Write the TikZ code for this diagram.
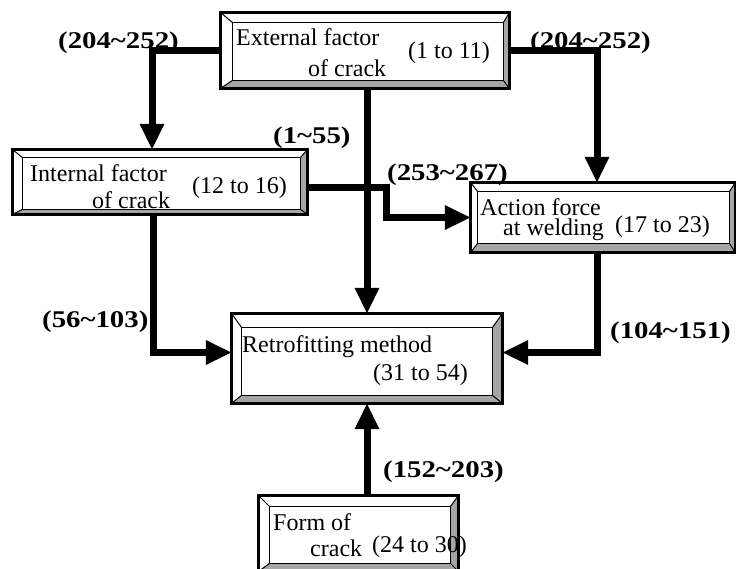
\documentclass[tikz,border=0pt]{standalone}
\usepackage{fontspec}
\setmainfont{Liberation Serif}
\newfontfamily\lblfont[FakeStretch=1.2]{Liberation Serif}
\usetikzlibrary{arrows.meta,calc}
\definecolor{bevelgray}{RGB}{165,165,165}
\tikzset{
  bbox/.style={rectangle, inner sep=0pt, draw=none},
  arr/.style={line width=7pt, -{Triangle[length=26pt,width=23pt]}},
  lbl/.style={font=\lblfont\bfseries\fontsize{24}{28}\selectfont, inner sep=0pt, anchor=west},
  txt/.style={font=\fontsize{24}{28}\selectfont, inner sep=0pt, anchor=west},
}
% name, left, top, right, bottom bevel widths
\newcommand\bevelbox[5]{%
  \fill[white] (#1.north west) rectangle (#1.south east);
  \coordinate (#1-a) at ($(#1.north west)+(#2,#3)$);
  \coordinate (#1-b) at ($(#1.north east)+(-#4,#3)$);
  \coordinate (#1-c) at ($(#1.south east)+(-#4,-#5)$);
  \coordinate (#1-d) at ($(#1.south west)+(#2,-#5)$);
  \fill[bevelgray] (#1.north east) -- (#1.south east) -- (#1-c) -- (#1-b) -- cycle;
  \fill[bevelgray] (#1.south west) -- (#1.south east) -- (#1-c) -- (#1-d) -- cycle;
  \draw[line width=1.3pt] (#1-a) rectangle (#1-c);
  \draw[line width=1pt] (#1.north west) -- (#1-a) (#1.north east) -- (#1-b)
        (#1.south east) -- (#1-c) (#1.south west) -- (#1-d);
  \draw[line width=3pt] (#1.north west) rectangle (#1.south east);
}
\begin{document}
\begin{tikzpicture}[x=1pt,y=-1pt]
\useasboundingbox (0,0) rectangle (736,568);
\fill[white] (0,0) rectangle (736,568);

% boxes
\node[bbox, minimum width=288pt, minimum height=75pt] (ext) at (365,50.5) {};
\node[bbox, minimum width=294pt, minimum height=64pt] (int) at (160,182) {};
\node[bbox, minimum width=264pt, minimum height=69pt] (act) at (603,217.5) {};
\node[bbox, minimum width=270pt, minimum height=89pt] (ret) at (367,358.5) {};
\node[bbox, minimum width=199pt, minimum height=75pt] (form) at (358.5,533.5) {};

\bevelbox{ext}{12}{10}{6}{8}
\bevelbox{int}{10}{8}{7}{5}
\bevelbox{act}{7}{9}{6}{9}
\bevelbox{ret}{10}{14}{10}{8}
\bevelbox{form}{11}{11}{8}{8}

% connectors
\draw[arr] (ext.west) -| ([xshift=-8pt]int.north);
\draw[arr] (ext.east) -| ([xshift=-6pt]act.north);
\draw[arr] (ext.south -| ret.north) -- (ret.north);
\draw[arr] ([yshift=-5pt]int.east) -- ++(79,0) |- (act.west);
\draw[arr] ([xshift=-7pt]int.south) |- ([yshift=6pt]ret.west);
\draw[arr] ([xshift=-6pt]act.south) |- ([yshift=6pt]ret.east);
\draw[arr] (ret.south |- form.north) -- (ret.south);

% box texts
\node[txt] (ext-t1) at (236,37) {External factor};
\node[txt] (ext-t2) at (308,68) {of crack};
\node[txt] (ext-t3) at (408,53) {(1 to 11)};
\node[txt] (int-t1) at (30,173) {Internal factor};
\node[txt] (int-t2) at (92,200) {of crack};
\node[txt] (int-t3) at (192,188) {(12 to 16)};
\node[txt] (act-t1) at (480,207) {Action force};
\node[txt] (act-t2) at (503,230) {at welding};
\node[txt] (act-t3) at (615,227) {(17 to 23)};
\node[txt] (ret-t1) at (242,347) {Retrofitting method};
\node[txt] (ret-t2) at (373,375) {(31 to 54)};
\node[txt] (form-t1) at (273,522) {Form of};
\node[txt] (form-t2) at (310,548) {crack};
\node[txt] (form-t3) at (372,547) {(24 to 30)};

% connector labels
\node[lbl] (l1) at (58,43) {(204\textasciitilde252)};
\node[lbl] (l2) at (530,43) {(204\textasciitilde252)};
\node[lbl] (l3) at (273,138) {(1\textasciitilde55)};
\node[lbl] (l4) at (387,175) {(253\textasciitilde267)};
\node[lbl] (l5) at (42,322) {(56\textasciitilde103)};
\node[lbl] (l6) at (610,333) {(104\textasciitilde151)};
\node[lbl] (l7) at (383,472) {(152\textasciitilde203)};
\end{tikzpicture}
\end{document}
